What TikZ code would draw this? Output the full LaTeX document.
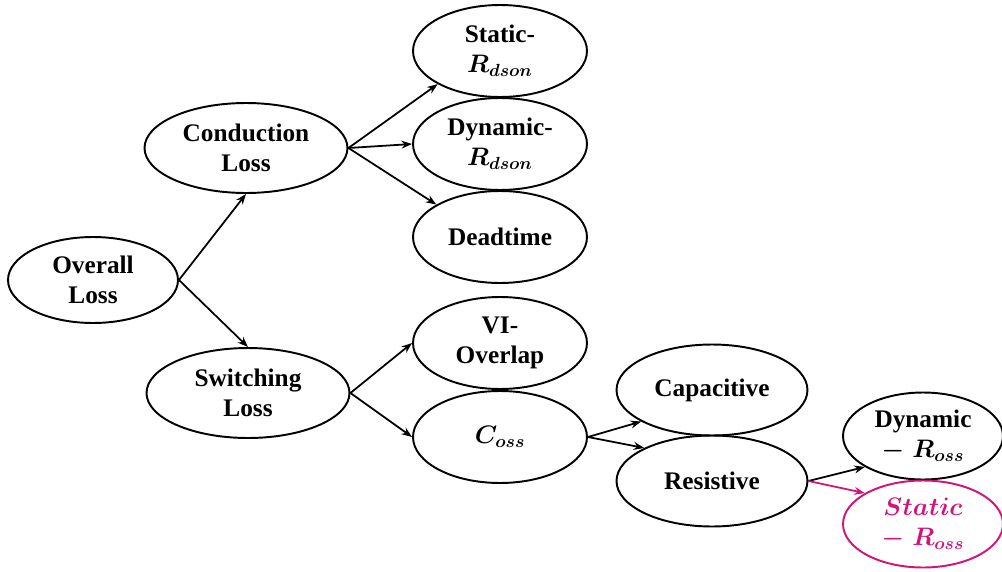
\documentclass[tikz,border=0pt]{standalone}
\usepackage{fontspec}
\setmainfont{Liberation Serif}
\usepackage{amsmath}
\usetikzlibrary{shapes.geometric, arrows.meta}
\definecolor{static-color}{RGB}{210,20,120}

\begin{document}
\begin{tikzpicture}[x=0.02cm, y=-0.02cm,
    loss/.style={ellipse, draw, align=center, inner sep=0pt, line width=1.1pt, font=\fontsize{14.4}{17}\selectfont\bfseries\boldmath},
    root/.style={loss, minimum width=3.4cm, minimum height=1.72cm},
    branch/.style={loss, minimum width=4.06cm, minimum height=1.8cm},
    leaf/.style={loss, minimum width=3.48cm, minimum height=1.84cm},
    part/.style={loss, minimum width=3.82cm, minimum height=1.82cm},
    ross/.style={loss, minimum width=3.2cm, minimum height=1.74cm},
    arrow/.style={-{Stealth[length=6pt, width=4.5pt]}, line width=1pt}]

    \useasboundingbox (0,0) rectangle (1002,572);

    % Root
    \node[root] (overall) at (93,280) {Overall\\Loss};

    % Main branches
    \node[branch] (cond) at (246,148) {Conduction\\Loss};
    \node[branch] (switch) at (248,393) {Switching\\Loss};

    % Conduction loss parts
    \node[leaf] (statrd) at (500,51) {Static-\\$R_{dson}$};
    \node[leaf] (dynrd) at (500,144) {Dynamic-\\$R_{dson}$};
    \node[leaf] (dead) at (500,237) {Deadtime};

    % Switching loss parts
    \node[leaf] (vi) at (500,343) {VI-\\Overlap};
    \node[leaf] (coss) at (500,437) {$C_{oss}$};

    % Coss parts
    \node[part] (cap) at (712,390) {Capacitive};
    \node[part] (res) at (712,481) {Resistive};

    % Resistive parts
    \node[ross] (dynross) at (923,436) {Dynamic\\$-\;R_{oss}$};
    \node[ross, draw=static-color, text=static-color] (statross) at (923,524) {$Static$\\$-\;R_{oss}$};

    % Arrows
    \draw[arrow] (overall.east) -- (cond.south);
    \draw[arrow] (overall.east) -- (switch.north);
    \draw[arrow] (cond.east) -- (statrd.208);
    \draw[arrow] (cond.east) -- (dynrd.west);
    \draw[arrow] (cond.east) -- (dead.153);
    \draw[arrow] (switch.east) -- (vi.west);
    \draw[arrow] (switch.east) -- (coss.west);
    \draw[arrow] (coss.east) -- (cap.204);
    \draw[arrow] (coss.east) -- (res.154);
    \draw[arrow] (res.east) -- (dynross.208);
    \draw[arrow, draw=static-color, fill=static-color] (res.east) -- (statross.152);
\end{tikzpicture}
\end{document}
